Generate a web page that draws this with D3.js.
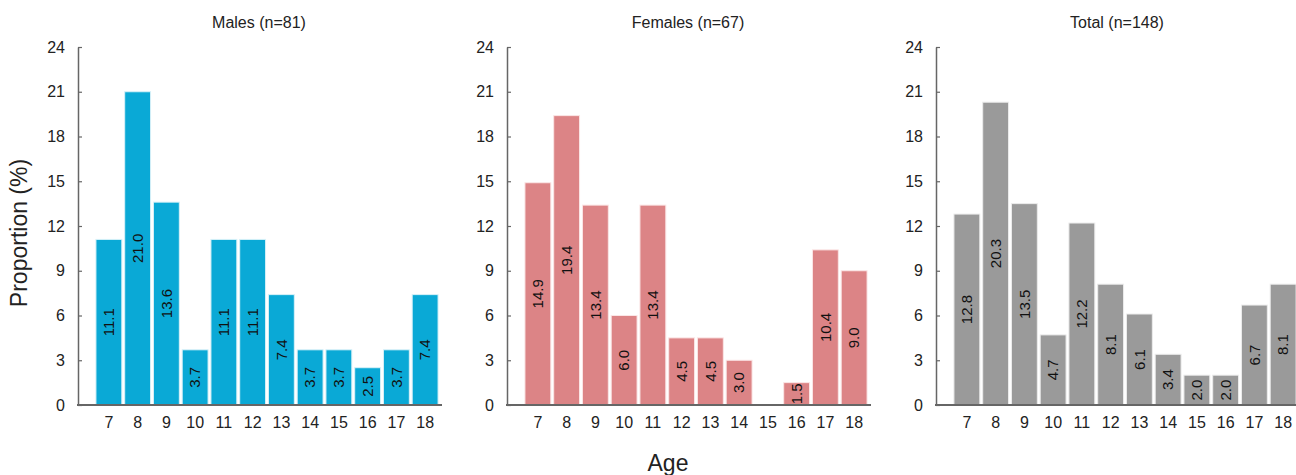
<!DOCTYPE html>
<html>
<head>
<meta charset="utf-8">
<script src="https://cdn.jsdelivr.net/npm/d3@7"></script>
<style>
  body { margin: 0; background: #fff; }
  svg { font-family: "Liberation Sans", Arial, sans-serif; }
</style>
</head>
<body>
<div id="chart"></div>
<script>
// data
const ages = ["7", "8", "9", "10", "11", "12", "13", "14", "15", "16", "17", "18"];
const males = [11.1, 21.0, 13.6, 3.7, 11.1, 11.1, 7.4, 3.7, 3.7, 2.5, 3.7, 7.4];
const females = [14.9, 19.4, 13.4, 6.0, 13.4, 4.5, 4.5, 3.0, null, 1.5, 10.4, 9.0];
const total = [12.8, 20.3, 13.5, 4.7, 12.2, 8.1, 6.1, 3.4, 2.0, 2.0, 6.7, 8.1];
const titles = ["Males (n=81)", "Females (n=67)", "Total (n=148)"];
const yTicks = [0, 3, 6, 9, 12, 15, 18, 21, 24];

const W = 1296, H = 475;
const panels = [
    { title: titles[0], values: males, fill: "#0aa9d6", stroke: "#d8f1f8", axisX: 78 },
    { title: titles[1], values: females, fill: "#dc8486", stroke: "#fbe6e6", axisX: 507 },
    { title: titles[2], values: total, fill: "#9a9a9a", stroke: "#ececec", axisX: 936 }
];

const svg = d3.select("#chart")
    .append("svg")
    .attr("width", W)
    .attr("height", H);

const y = d3.scaleLinear()
    .domain([0, 24])
    .range([405, 47]);

panels.forEach(p => {
    const g = svg.append("g");

    const x = d3.scaleBand()
        .domain(ages)
        .range([p.axisX + 16.5, p.axisX + 361.5])
        .paddingInner(0.1)
        .paddingOuter(0.05);

    const rows = ages.map((a, i) => ({ age: a, v: p.values[i] })).filter(d => d.v != null);

    g.selectAll(".bar")
        .data(rows)
        .enter()
        .append("rect")
        .attr("class", "bar")
        .attr("x", d => x(d.age))
        .attr("y", d => y(d.v))
        .attr("width", x.bandwidth())
        .attr("height", d => y(0) - y(d.v))
        .attr("fill", p.fill)
        .attr("stroke", p.stroke)
        .attr("stroke-width", 1);

    // value labels, centred in bar, rotated
    g.selectAll(".label")
        .data(rows)
        .enter()
        .append("text")
        .attr("class", "label")
        .attr("transform", d => `translate(${x(d.age) + x.bandwidth() / 2},${(y(d.v) + y(0)) / 2}) rotate(-90)`)
        .attr("text-anchor", "middle")
        .attr("dy", "0.35em")
        .style("font-size", "15px")
        .attr("fill", "#111")
        .text(d => d.v.toFixed(1));

    // y axis, ticks pointing inward
    const yAxis = g.append("g")
        .attr("transform", `translate(${p.axisX},0)`)
        .call(d3.axisLeft(y).tickValues(yTicks).tickSize(-4).tickSizeOuter(0).tickPadding(13));
    yAxis.select(".domain").attr("stroke", "#666").attr("stroke-width", 1.5);
    yAxis.selectAll(".tick line").attr("stroke", "#666").attr("stroke-width", 1.2);
    yAxis.selectAll(".tick text").style("font-size", "16px").attr("fill", "#222");

    // x axis
    const xAxis = g.append("g")
        .attr("transform", `translate(0,${y(0)})`)
        .call(d3.axisBottom(x).tickSize(0).tickPadding(12));
    xAxis.select(".domain").remove();
    xAxis.selectAll(".tick text").style("font-size", "16px").attr("fill", "#222");
    g.append("line")
        .attr("x1", p.axisX - 1)
        .attr("x2", p.axisX + 364)
        .attr("y1", y(0))
        .attr("y2", y(0))
        .attr("stroke", "#666")
        .attr("stroke-width", 2);

    g.append("text")
        .attr("x", p.axisX + 181)
        .attr("y", 28)
        .attr("text-anchor", "middle")
        .style("font-size", "16px")
        .attr("fill", "#222")
        .text(p.title);
});

svg.append("text")
    .attr("transform", "translate(19,233) rotate(-90)")
    .attr("text-anchor", "middle")
    .attr("dy", "0.35em")
    .style("font-size", "23px")
    .attr("fill", "#222")
    .text("Proportion (%)");

svg.append("text")
    .attr("x", 668)
    .attr("y", 471)
    .attr("text-anchor", "middle")
    .style("font-size", "23px")
    .attr("fill", "#222")
    .text("Age");
</script>
</body>
</html>
